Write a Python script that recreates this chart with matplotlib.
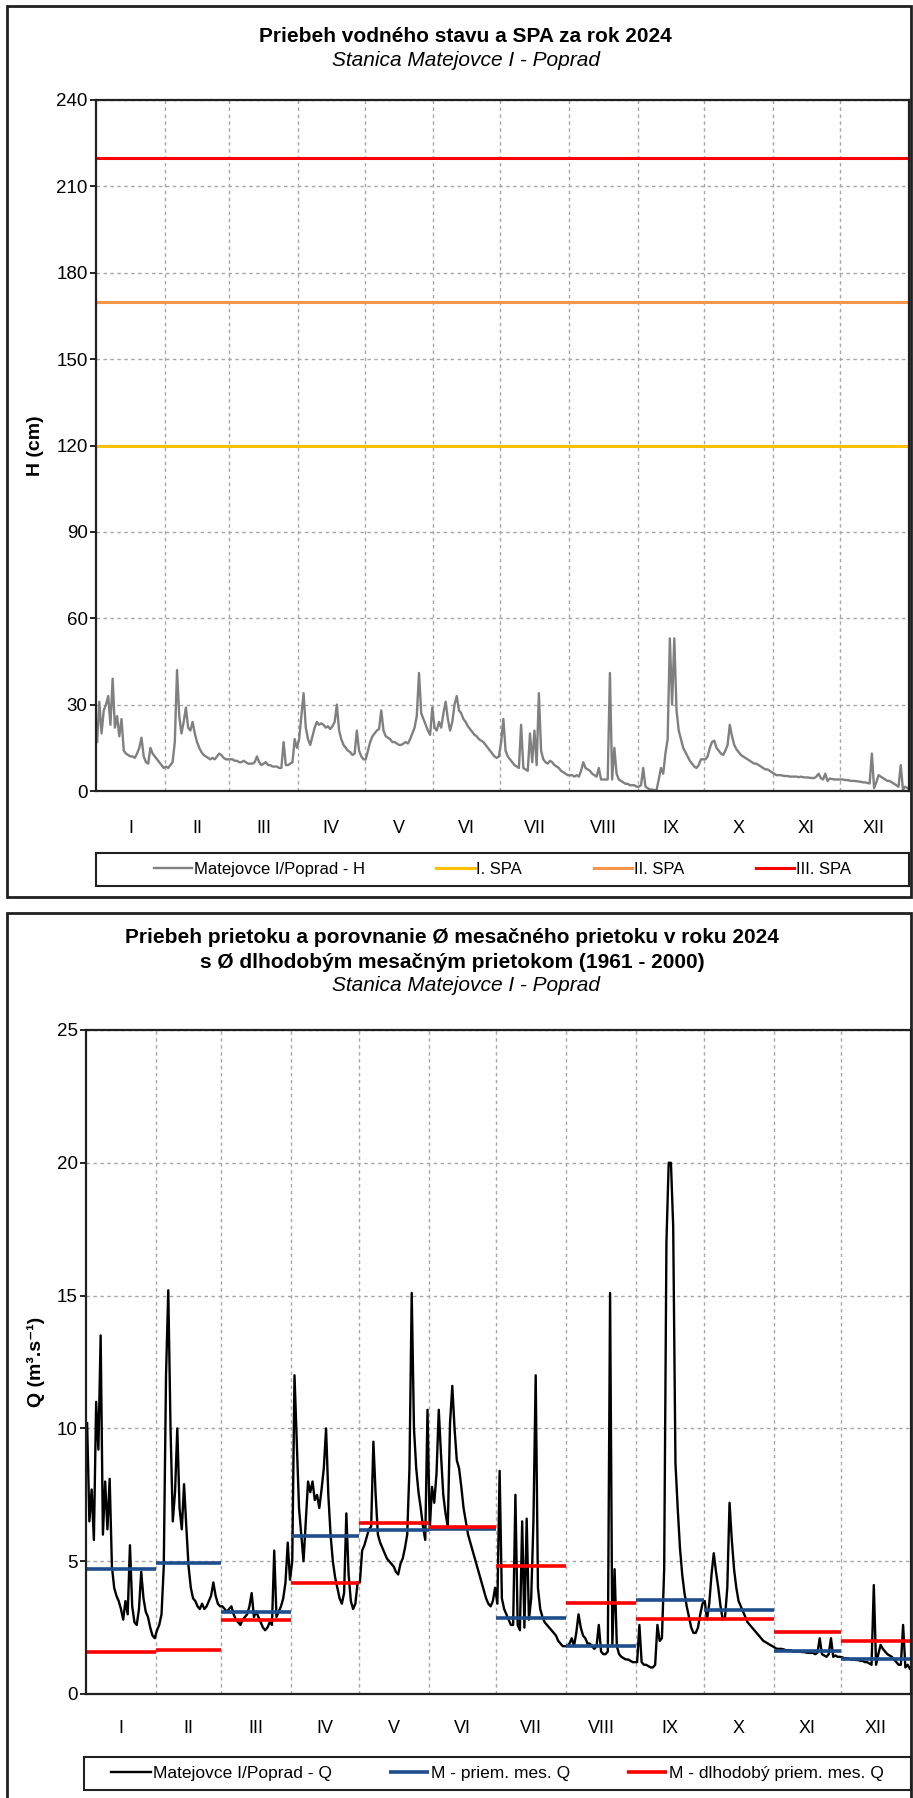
import numpy as np
import matplotlib
matplotlib.use("Agg")
import matplotlib.pyplot as plt
from matplotlib.patches import Rectangle

plt.rcParams['font.family'] = ['Liberation Sans', 'DejaVu Sans']

# --- data -----------------------------------------------------------------
month_labels = ['I', 'II', 'III', 'IV', 'V', 'VI', 'VII', 'VIII', 'IX', 'X', 'XI', 'XII']
month_days = [31, 29, 31, 30, 31, 30, 31, 31, 30, 31, 30, 31]

# daily water level H (cm)
water_level = [
    17, 31, 20, 28, 30, 33, 23, 39, 22, 26, 19, 25, 14, 13, 12.5, 12, 12, 11.5, 13, 15, 18.5, 12, 10, 9.5, 15, 13, 12, 11, 10, 9, 8,
    8.5, 8, 9, 10, 17, 42, 26, 20, 24, 29, 22, 21, 24, 20, 17, 15, 13.5, 12.5, 12, 11.5, 11, 11.5, 11, 12, 13, 12.5, 11.5, 11, 11,
    11, 11, 10.5, 10.5, 10, 10, 10.5, 10, 9.5, 9.5, 9.5, 10, 12, 10, 9, 9.5, 10, 9, 9, 8.5, 8.5, 8.5, 8, 8, 17, 9, 9, 9.5, 10, 18, 15,
    18, 26, 34, 22, 18, 16, 19, 22, 24, 23, 23.5, 23, 22, 22.5, 21.5, 22.5, 24, 30, 21, 18, 16, 15, 14, 13.5, 12.5, 13, 21, 14, 12, 11,
    11, 14, 17, 19, 20, 21, 21.5, 28, 21, 19, 18.5, 18, 17, 17, 16.5, 16, 16, 16.5, 17, 16.5, 18, 20, 22, 26, 41, 27, 25, 23, 21, 19.5, 29,
    22, 21, 24, 22, 27, 31, 25, 21, 24, 30, 33, 28, 27, 25, 24, 22.5, 21.5, 20.5, 19.5, 19, 18, 17.5, 17, 16, 15, 14, 13, 12, 11.5, 12,
    17, 25, 14, 12, 11, 10, 9, 8.5, 8, 23, 8, 7.5, 7, 20, 10, 21, 9, 34, 14, 11, 10, 9.5, 10.5, 10, 9, 8.5, 8, 7, 6.5, 6, 5.5,
    5.5, 5.5, 5, 5.5, 5, 7, 10, 8, 7.5, 7, 6, 5.5, 5, 8, 4, 4, 4, 4, 41, 4, 15, 6, 4, 3.5, 3, 2.5, 2.5, 2, 2, 2, 1.5,
    1.5, 2, 8, 1.5, 1, 0.5, 0.5, 0.3, 0.3, 4, 8, 6, 13, 18, 53, 30, 53, 28, 21, 18, 15, 13.5, 12, 10.5, 9.5, 8.5, 8, 9, 11, 11,
    11, 12, 15, 17, 17.5, 15, 14, 13, 12.5, 14, 16, 23, 19, 16, 14.5, 13.5, 12.5, 12, 11.5, 11, 10.5, 10, 9.5, 9.5, 9, 8.5, 8, 7.5, 7.5, 7, 6.5,
    6, 5.5, 5.5, 5.5, 5.3, 5.2, 5.2, 5, 5, 5, 5, 4.8, 5, 4.8, 4.7, 4.7, 4.6, 4.5, 4.5, 5, 6, 4.5, 4, 6, 3.5, 4.3, 4.2, 4, 4, 4,
    4, 4, 3.8, 3.8, 3.6, 3.5, 3.5, 3.4, 3.3, 3.2, 3, 3, 2.8, 2.6, 13, 1, 3, 5.5, 5, 4.5, 4, 3.5, 3.5, 3, 2.5, 2, 1.5, 9, 0.5, 1.5, 1,
]

# flood activity levels (SPA), cm
spa_levels = [120, 170, 220]
spa_names = ['I. SPA', 'II. SPA', 'III. SPA']
spa_colors = ['#FFC000', '#F79646', '#FF0000']

# daily discharge Q (m3/s)
discharge = [
    10.2, 6.5, 7.7, 5.8, 11.0, 9.2, 13.5, 6.0, 8.0, 6.2, 8.1, 4.8, 4.0, 3.7, 3.5, 3.2, 2.8, 3.5, 3.0, 5.6, 3.3, 2.7, 2.6, 3.2, 4.6, 3.6, 3.1, 2.9, 2.5, 2.2, 2.1,
    2.4, 2.6, 3.0, 4.8, 12.0, 15.2, 10.0, 6.5, 7.6, 10.0, 7.0, 6.2, 7.9, 6.3, 4.8, 4.0, 3.6, 3.5, 3.3, 3.2, 3.4, 3.2, 3.3, 3.5, 3.7, 4.2, 3.7, 3.4, 3.3,
    3.3, 3.2, 3.1, 3.2, 3.3, 3.0, 2.8, 2.7, 2.6, 2.8, 2.9, 3.0, 3.3, 3.8, 2.9, 3.1, 2.9, 2.7, 2.5, 2.4, 2.5, 2.7, 2.6, 5.4, 2.9, 3.1, 3.3, 3.6, 4.2, 5.7, 4.3,
    5.0, 12.0, 9.5, 7.0, 6.0, 5.0, 6.5, 8.0, 7.6, 8.0, 7.3, 7.5, 7.0, 7.7, 8.5, 10.0, 7.5, 6.0, 5.0, 4.4, 4.0, 3.6, 3.4, 3.8, 6.8, 4.5, 3.5, 3.2, 3.4, 4.2,
    4.2, 5.4, 5.6, 5.9, 6.2, 6.3, 9.5, 7.5, 6.0, 5.7, 5.5, 5.3, 5.1, 5.0, 4.9, 4.8, 4.6, 4.5, 4.9, 5.1, 5.5, 6.0, 8.5, 15.1, 10.0, 8.5, 7.6, 7.0, 6.3, 5.8, 10.7,
    6.2, 7.8, 7.2, 8.3, 10.7, 9.0, 7.5, 6.8, 6.3, 10.2, 11.6, 10.0, 8.8, 8.5, 7.8, 7.0, 6.5, 6.0, 5.7, 5.4, 5.1, 4.8, 4.5, 4.2, 3.9, 3.6, 3.4, 3.3, 3.5, 4.0,
    3.4, 8.4, 3.6, 3.2, 3.0, 2.8, 2.6, 2.6, 7.5, 2.6, 2.4, 6.5, 2.5, 6.6, 2.8, 3.6, 6.5, 12.0, 4.0, 3.2, 2.9, 2.7, 2.6, 2.5, 2.4, 2.3, 2.2, 2.0, 1.9, 1.8, 1.8,
    1.8, 1.9, 2.1, 1.8, 2.3, 3.0, 2.5, 2.2, 2.1, 1.9, 1.9, 1.8, 1.7, 1.8, 2.6, 1.6, 1.5, 1.5, 1.6, 15.1, 1.8, 4.7, 1.8, 1.5, 1.4, 1.35, 1.3, 1.3, 1.25, 1.2, 1.2,
    1.2, 2.6, 1.2, 1.1, 1.1, 1.05, 1.0, 1.0, 1.1, 2.6, 2.0, 2.1, 4.7, 17.0, 20.0, 20.0, 17.6, 8.7, 7.0, 5.5, 4.5, 3.8, 3.3, 2.9, 2.5, 2.3, 2.3, 2.5, 3.0, 3.4,
    3.5, 2.8, 3.4, 4.5, 5.3, 4.6, 4.0, 3.3, 2.8, 2.9, 4.0, 7.2, 5.8, 4.7, 4.0, 3.5, 3.3, 3.1, 2.9, 2.7, 2.6, 2.5, 2.4, 2.3, 2.2, 2.1, 2.0, 1.95, 1.9, 1.85, 1.8,
    1.75, 1.7, 1.7, 1.7, 1.68, 1.65, 1.65, 1.65, 1.6, 1.6, 1.6, 1.6, 1.58, 1.58, 1.56, 1.55, 1.55, 1.55, 1.5, 1.55, 2.1, 1.5, 1.45, 1.4, 1.5, 2.1, 1.4, 1.45, 1.4, 1.4,
    1.38, 1.35, 1.35, 1.33, 1.3, 1.3, 1.28, 1.28, 1.25, 1.25, 1.2, 1.2, 1.15, 1.1, 4.1, 1.1, 1.5, 1.85, 1.7, 1.6, 1.5, 1.45, 1.4, 1.3, 1.2, 1.1, 1.1, 2.6, 1.0, 1.1, 0.95,
]

# monthly mean discharge 2024 and long-term monthly mean (1961-2000)
mean_2024 = [4.69, 4.95, 3.09, 5.93, 6.19, 6.20, 2.86, 1.79, 3.54, 3.17, 1.63, 1.32]
mean_longterm = [1.58, 1.66, 2.78, 4.18, 6.44, 6.27, 4.83, 3.43, 2.82, 2.82, 2.34, 1.99]

# --- layout ---------------------------------------------------------------
W, H = 913, 1798
fig = plt.figure(figsize=(W / 100, H / 100), dpi=100)

month_start = np.concatenate([[0], np.cumsum(month_days)])
month_mid = (month_start[:-1] + month_start[1:]) / 2
days = np.arange(len(water_level)) + 0.5

grid_kw = dict(color='#a6a6a6', lw=1.0, ls=(0, (2.5, 2.5)))
frame_col = '#202020'


def style_axes(ax, ymax, ystep, pad):
    ax.set_xlim(0, month_start[-1])
    ax.set_ylim(0, ymax)
    ax.set_yticks(np.arange(0, ymax + 0.1, ystep))
    ax.set_xticks(month_mid)
    ax.set_xticklabels(month_labels)
    ax.set_xticks(month_start[1:-1], minor=True)
    ax.tick_params(axis='x', which='both', length=0, labelsize=13, pad=pad)
    ax.tick_params(axis='y', length=4, width=1.2, labelsize=13.5, pad=2)
    ax.grid(True, axis='y', **grid_kw)
    ax.grid(True, axis='x', which='minor', **grid_kw)
    ax.set_axisbelow(True)
    for s in ax.spines.values():
        s.set_linewidth(1.6)
        s.set_color(frame_col)


def fig_box(x0, y0, x1, y1, lw):
    # rectangle given in pixel coords from the top-left corner
    fig.patches.append(Rectangle((x0 / W, 1 - y1 / H), (x1 - x0) / W, (y1 - y0) / H,
                                 transform=fig.transFigure, fill=False,
                                 edgecolor=frame_col, lw=lw))


def boxed_legend(ax, x0, y0, x1, y1, ncol, colspace, size):
    fig_box(x0, y0, x1, y1, 1.5)
    ax.legend(loc='center', ncol=ncol, frameon=False,
              bbox_to_anchor=((x0 + x1) / 2 / W, 1 - (y0 + y1) / 2 / H),
              bbox_transform=fig.transFigure, borderaxespad=0,
              fontsize=size, handlelength=2.3, handletextpad=0.1,
              columnspacing=colspace)


# panel frames
fig_box(7, 6, 911, 897, 2)
fig_box(7, 913, 911, 1810, 2)

# --- top chart: water level -----------------------------------------------
ax1 = fig.add_axes([96 / W, 1 - 791 / H, 812.5 / W, 691 / H])
ax1.plot(days, water_level, color='#808080', lw=1.7, label='Matejovce I/Poprad - H')
for lvl, name, col in zip(spa_levels, spa_names, spa_colors):
    ax1.axhline(lvl, color=col, lw=2.2, label=name)
style_axes(ax1, 240, 30, 21)
ax1.set_ylabel('H (cm)', fontsize=14, fontweight='bold')
ax1.yaxis.set_label_coords(-0.064, 0.5)

fig.text(0.51, 1 - 36 / H, 'Priebeh vodného stavu a SPA za rok 2024',
         ha='center', va='center', fontsize=15, fontweight='bold')
fig.text(0.51, 1 - 60 / H, 'Stanica Matejovce I - Poprad',
         ha='center', va='center', fontsize=15, style='italic')

boxed_legend(ax1, 96, 853, 908.5, 886, 4, 4.3, 12)

# --- bottom chart: discharge ------------------------------------------------
ax2 = fig.add_axes([86 / W, 1 - 1694 / H, 825 / W, 664 / H])
ax2.plot(days, discharge, color='black', lw=1.7, label='Matejovce I/Poprad - Q')
ax2.hlines(mean_2024, month_start[:-1], month_start[1:], color='#1F4E8C', lw=2.6,
           label='M - priem. mes. Q')
ax2.hlines(mean_longterm, month_start[:-1], month_start[1:], color='#FF0000', lw=2.6,
           label='M - dlhodobý priem. mes. Q')
style_axes(ax2, 25, 5, 19)
ax2.set_ylabel('Q (m³.s⁻¹)', fontsize=14, fontweight='bold')
ax2.yaxis.set_label_coords(-0.05, 0.5)

fig.text(0.495, 1 - 937 / H, 'Priebeh prietoku a porovnanie Ø mesačného prietoku v roku 2024',
         ha='center', va='center', fontsize=15, fontweight='bold')
fig.text(0.495, 1 - 962 / H, 's Ø dlhodobým mesačným prietokom (1961 - 2000)',
         ha='center', va='center', fontsize=15, fontweight='bold')
fig.text(0.51, 1 - 986 / H, 'Stanica Matejovce I - Poprad',
         ha='center', va='center', fontsize=15, style='italic')

boxed_legend(ax2, 84, 1757, 911, 1790, 3, 3.3, 12.5)

fig.savefig('out.png', dpi=100)
